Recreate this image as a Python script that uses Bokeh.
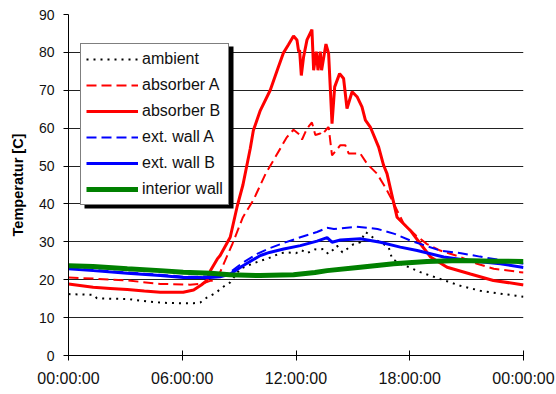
from bokeh.plotting import figure
from bokeh.models import Legend, LegendItem, FixedTicker, BoxAnnotation
from bokeh.embed import file_html
from bokeh.resources import INLINE

# ---- data (time in hours of day, temperature in C) ----
t_ambient = [0, 0.7, 1.3, 1.5, 2.2, 3.1, 4.31, 5.0, 6.05, 6.6, 6.95, 7.3, 7.83, 8.0, 8.53, 9.06,
             9.5, 10.12, 10.47, 11.17, 11.52, 12.0, 12.3, 12.58, 13.0, 13.46, 13.7, 13.98, 14.16,
             14.45, 14.69, 15.04, 15.39, 15.66, 15.92, 16.2, 16.45, 16.89, 17.07, 17.5, 18.0,
             18.56, 19.61, 20.67, 21.72, 22.95, 23.6, 24.0]
ambient = [16.2, 16.1, 16.0, 15.1, 15.0, 14.9, 14.2, 13.9, 13.8, 13.8, 14.0, 15.3, 16.7, 17.6, 19.3, 22.9,
           23.8, 25.0, 25.5, 27.0, 27.2, 27.0, 27.8, 27.0, 28.0, 28.1, 26.8, 28.0, 29.0,
           27.2, 28.1, 29.4, 29.9, 32.6, 31.7, 30.5, 29.9, 28.6, 25.5, 24.2, 23.2,
           22.0, 20.2, 18.4, 17.1, 16.2, 15.8, 15.5]

t_absorber_a = [0, 1.3, 3.1, 4.84, 6.4, 7.0, 7.48, 7.66, 8.0, 8.3, 8.65, 9.2, 9.75, 10.4, 11.17,
                11.5, 11.87, 12.23, 12.32, 12.58, 12.84, 13.02, 13.28, 13.37, 13.64, 13.72, 13.9,
                14.34, 14.6, 14.78, 15.39, 15.75, 16.27, 16.71, 17.07, 17.68, 18.3, 18.91, 19.61,
                20.67, 21.55, 22.43, 23.84, 24.0]
absorber_a = [20.6, 20.3, 19.8, 18.9, 18.7, 18.9, 19.7, 19.7, 22.0, 25.5, 29.5, 36.5, 41.0, 48.0, 54.6,
              57.5, 59.6, 58.1, 57.0, 59.9, 61.5, 58.2, 58.6, 58.2, 59.9, 60.3, 52.8,
              55.5, 55.5, 53.3, 53.3, 50.6, 48.0, 44.4, 41.0, 34.8, 31.8, 29.4, 27.7,
              26.0, 24.2, 22.9, 22.0, 21.9]

t_absorber_b = [0, 0.6, 1.3, 2.2, 3.1, 4.0, 4.84, 6.05, 6.6, 7.0, 7.3, 7.5, 7.85, 8.0, 8.53, 8.89,
                9.2, 9.59, 9.75, 10.12, 10.64, 11.01, 11.33, 11.6, 11.87, 12.05, 12.14, 12.19,
                12.28, 12.4, 12.58, 12.84, 12.93, 13.07, 13.16, 13.28, 13.35, 13.58, 13.72, 13.9,
                14.04, 14.3, 14.51, 14.69, 14.96, 15.22, 15.48, 15.66, 15.92, 16.36, 16.62, 16.8,
                17.12, 17.33, 18.03, 18.56, 19.1, 19.97, 21.2, 22.41, 23.93, 24.0]
absorber_b = [18.9, 18.5, 18.0, 17.7, 17.4, 17.0, 16.7, 16.7, 17.3, 18.6, 19.8, 22.5, 25.5, 26.4, 31.2, 39.2,
              45.0, 54.7, 59.4, 64.7, 70.0, 75.3, 79.8, 82.0, 84.3, 83.3, 80.2, 80.6,
              73.9, 78.8, 83.3, 86.0, 75.3, 80.2, 75.3, 80.2, 75.3, 82.2, 79.7, 61.2,
              70.9, 74.4, 73.1, 65.2, 69.6, 68.3, 65.6, 62.1, 60.3, 55.0, 50.2, 48.0,
              41.0, 36.5, 33.0, 29.5, 26.0, 23.3, 21.5, 19.8, 18.7, 18.6]

t_ext_wall_a = [0, 1.3, 3.1, 4.84, 6.05, 7.0, 8.0, 8.53, 9.2, 9.95, 10.6, 11.35, 12.23, 13.11, 13.64,
                14.0, 15.2, 16.3, 17.2, 18.05, 19.6, 20.7, 21.7, 23.1, 24.0]
ext_wall_a = [23.1, 22.6, 21.9, 21.3, 20.8, 20.8, 21.0, 22.0, 24.5, 26.8, 28.3, 29.7, 31.2, 32.6, 33.7,
              33.4, 34.0, 33.4, 32.1, 30.3, 27.7, 27.0, 26.1, 24.9, 24.2]

t_ext_wall_b = [0, 1.3, 3.1, 4.84, 6.05, 6.95, 7.3, 8.0, 8.53, 9.2, 10.12, 10.6, 11.35, 12.23, 13.11,
                13.64, 13.9, 14.34, 15.39, 16.45, 17.5, 18.39, 19.79, 21.2, 22.78, 23.93, 24.0]
ext_wall_b = [22.9, 22.4, 21.7, 21.1, 20.6, 20.6, 20.5, 20.8, 21.5, 23.7, 26.4, 27.2, 28.1, 29.0, 30.2,
              31.1, 29.9, 30.5, 30.8, 29.9, 28.6, 27.7, 26.0, 25.0, 24.2, 23.3, 23.2]

t_interior_wall = [0, 1.3, 3.1, 4.84, 6.05, 7.5, 8.5, 10.1, 11.87, 13.0, 13.64, 15.39, 17.15, 18.91,
                   20.67, 22.43, 24.0]
interior_wall = [23.7, 23.5, 22.9, 22.4, 22.0, 21.7, 21.3, 21.1, 21.3, 21.9, 22.4, 23.3, 24.2, 24.8,
                 25.1, 24.9, 24.8]

x_ticks = [0, 6, 12, 18, 24]
x_tick_labels = ["00:00:00", "06:00:00", "12:00:00", "18:00:00", "00:00:00"]
y_ticks = [0, 10, 20, 30, 40, 50, 60, 70, 80, 90]

FONT = "Liberation Sans"

p = figure(width=556, height=394, output_backend="svg", toolbar_location=None,
           x_range=(0, 24), y_range=(0, 90),
           min_border_left=68, min_border_right=33, min_border_top=14, min_border_bottom=39)
p.outline_line_color = None
p.background_fill_color = "white"
p.border_fill_color = "white"

p.xgrid.grid_line_color = None
p.ygrid.grid_line_color = "#222222"
p.ygrid.grid_line_width = 1

p.xaxis.ticker = FixedTicker(ticks=x_ticks)
p.xaxis.major_label_overrides = {t: l for t, l in zip(x_ticks, x_tick_labels)}
p.yaxis.ticker = FixedTicker(ticks=y_ticks)

for ax in (p.xaxis[0], p.yaxis[0]):
    ax.axis_line_color = "black"
    ax.major_tick_line_color = "black"
    ax.minor_tick_line_color = None
    ax.major_label_text_font = FONT
    ax.major_label_text_color = "#111111"

p.xaxis.major_tick_in = 5
p.xaxis.major_tick_out = 5
p.xaxis.major_label_text_font_size = "16px"
p.xaxis.major_label_standoff = 9
p.yaxis.major_tick_in = 0
p.yaxis.major_tick_out = 5
p.yaxis.major_label_text_font_size = "14px"
p.yaxis.major_label_standoff = 9
p.yaxis.axis_label = "Temperatur [C]"
p.yaxis.axis_label_text_font = FONT
p.yaxis.axis_label_text_font_style = "bold"
p.yaxis.axis_label_text_font_size = "14.5px"
p.yaxis.axis_label_text_color = "black"
p.yaxis.axis_label_standoff = 10

r_amb = p.line(t_ambient, ambient, line_color="black", line_width=2, line_dash="2 5")
r_aa = p.line(t_absorber_a, absorber_a, line_color="#ff0000", line_width=2, line_dash="10 5")
r_ab = p.line(t_absorber_b, absorber_b, line_color="#ff0000", line_width=3)
r_wa = p.line(t_ext_wall_a, ext_wall_a, line_color="#0000ff", line_width=2, line_dash="10 5")
r_wb = p.line(t_ext_wall_b, ext_wall_b, line_color="#0000ff", line_width=3)
r_iw = p.line(t_interior_wall, interior_wall, line_color="#008000", line_width=5)

# drop shadow behind the legend box (screen units: from frame's bottom-left corner)
shadow = BoxAnnotation(left=16, right=165, top=309, bottom=147,
                       left_units="screen", right_units="screen", top_units="screen", bottom_units="screen",
                       fill_color="black", fill_alpha=1, line_color=None)
p.add_layout(shadow)

legend = Legend(items=[
    LegendItem(label="ambient", renderers=[r_amb]),
    LegendItem(label="absorber A", renderers=[r_aa]),
    LegendItem(label="absorber B", renderers=[r_ab]),
    LegendItem(label="ext. wall A", renderers=[r_wa]),
    LegendItem(label="ext. wall B", renderers=[r_wb]),
    LegendItem(label="interior wall", renderers=[r_iw]),
], location=(12, 150))
legend.border_line_color = "black"
legend.border_line_width = 1
legend.background_fill_color = "white"
legend.background_fill_alpha = 1
legend.label_text_font = FONT
legend.label_text_font_size = "16px"
legend.label_text_color = "#111111"
legend.glyph_width = 52
legend.glyph_height = 20
legend.label_height = 20
legend.label_standoff = 4
legend.spacing = 6
legend.padding = 5
legend.margin = 0
p.add_layout(legend, "center")

open("out.html", "w").write(file_html(p, INLINE))
